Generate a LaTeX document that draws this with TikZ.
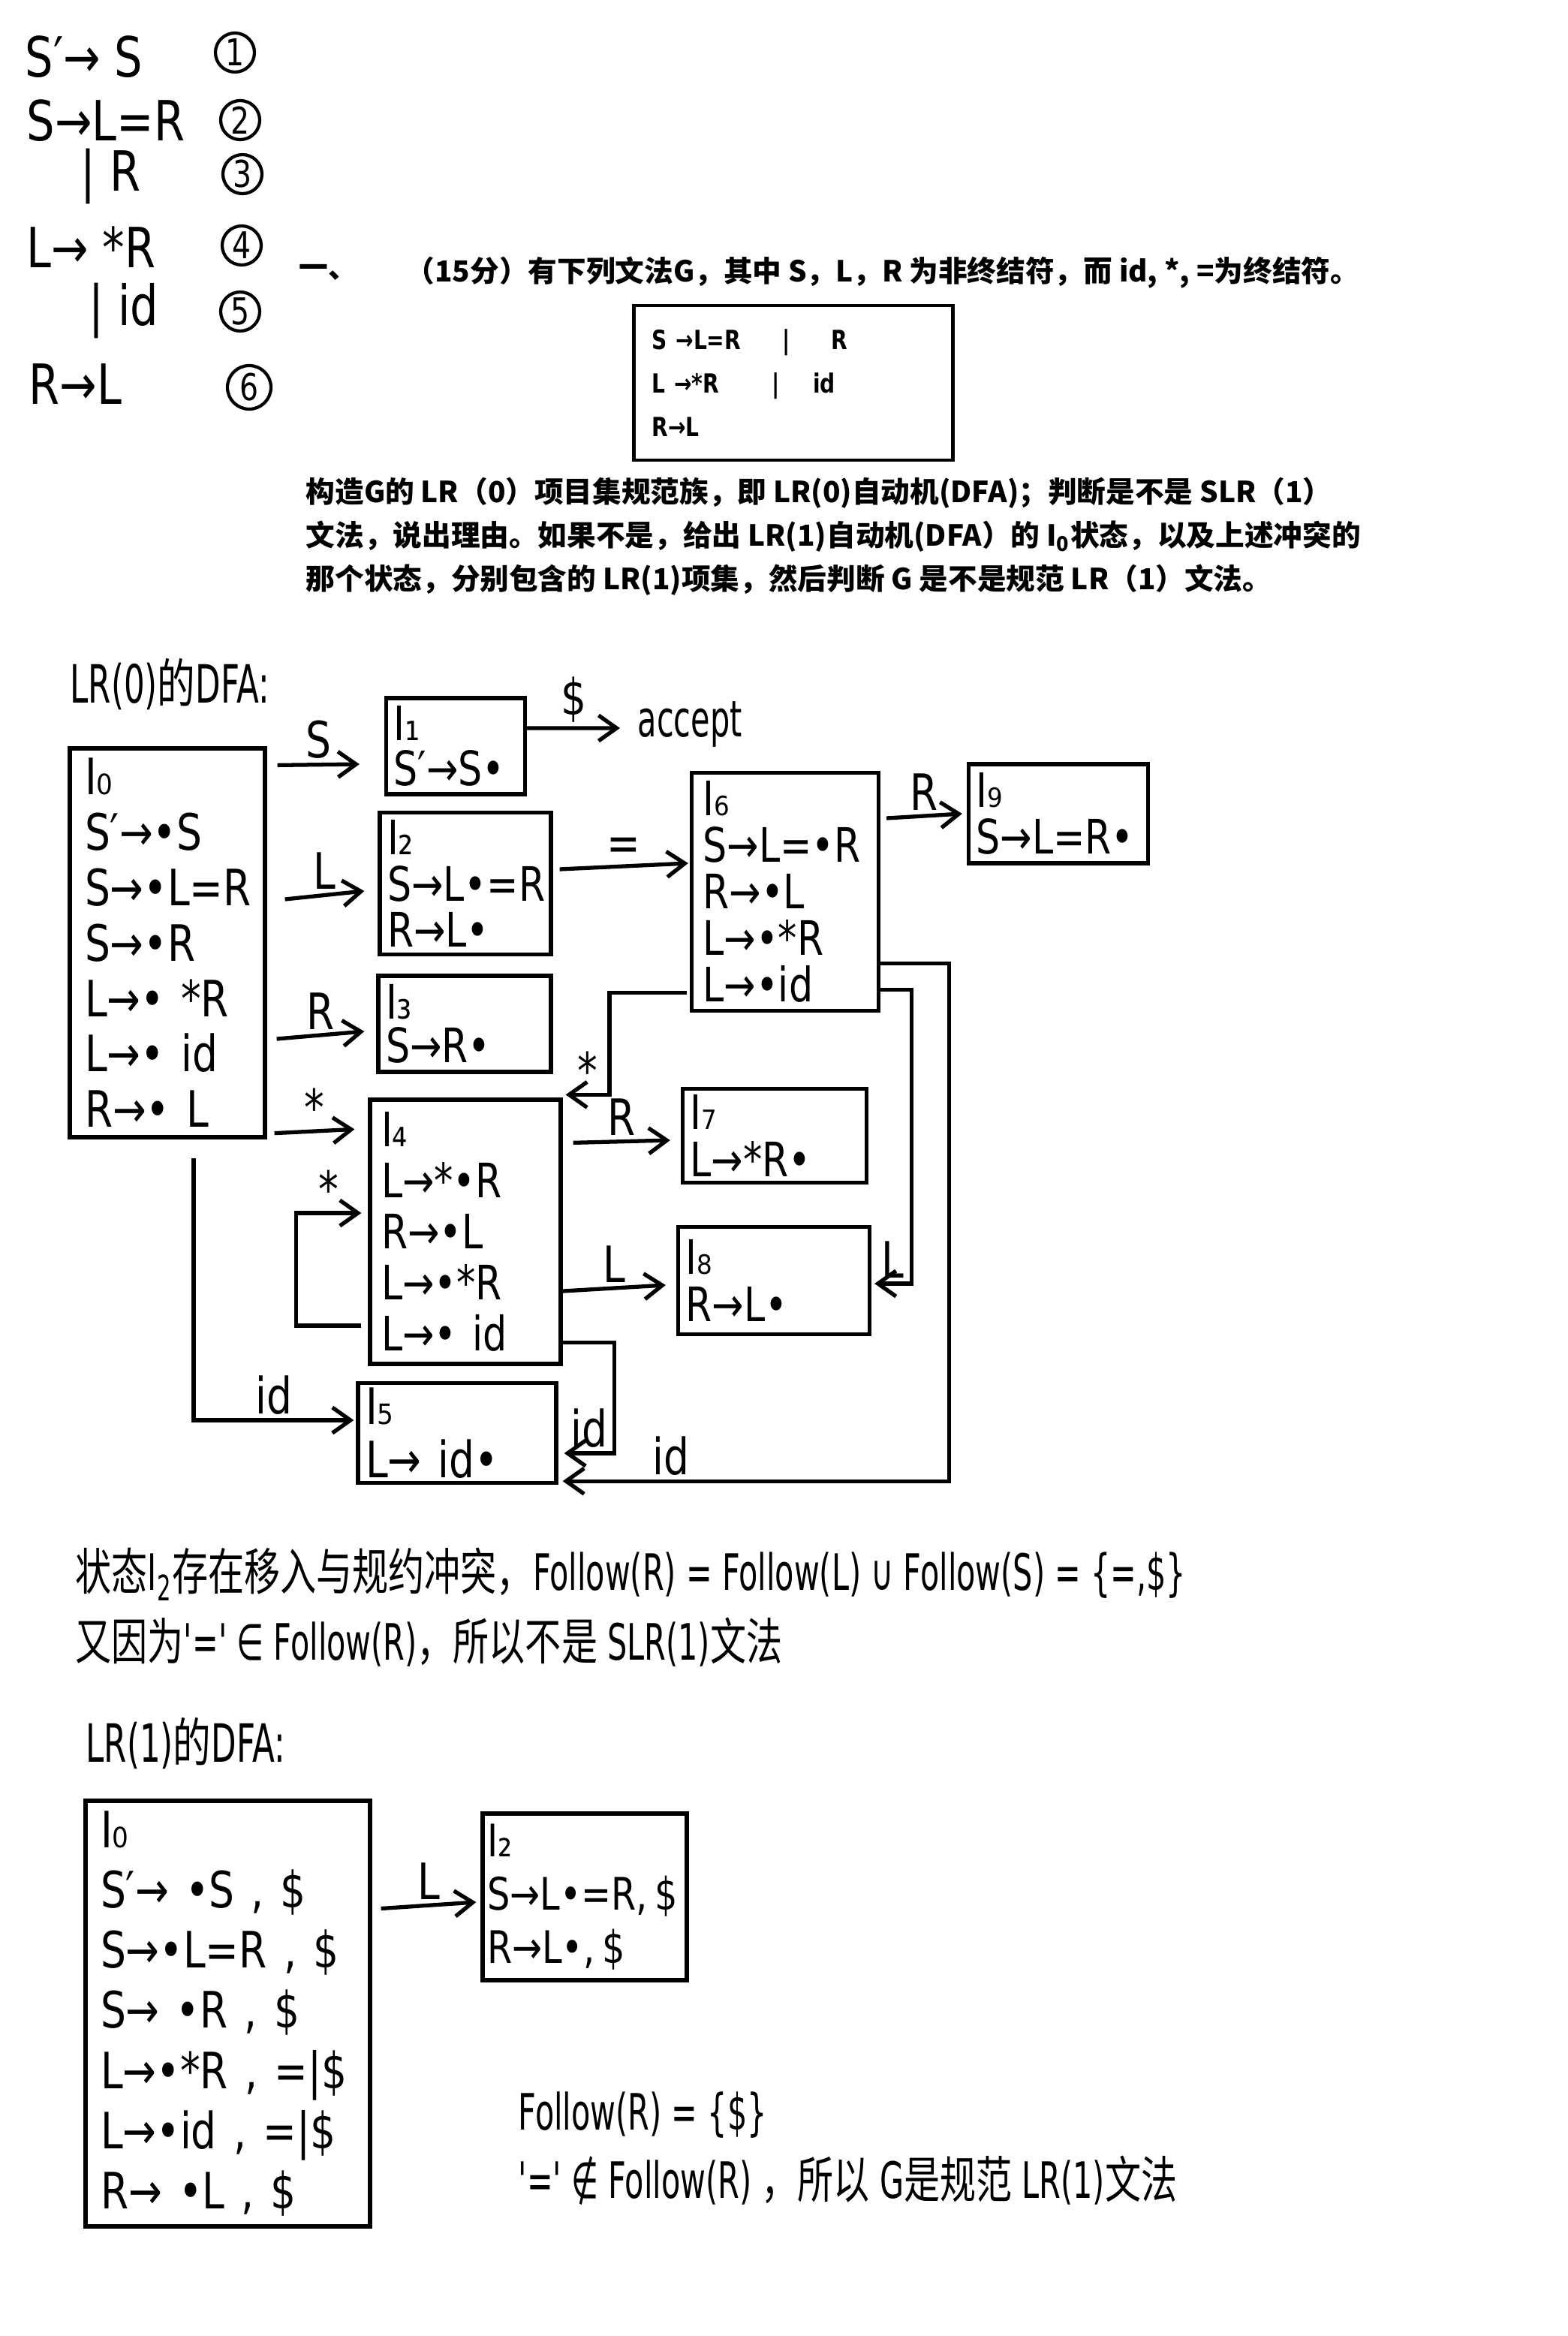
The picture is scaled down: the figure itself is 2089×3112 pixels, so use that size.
\documentclass[tikz,border=0pt]{standalone}
\usepackage{fontspec}
\setmainfont{DejaVu Sans}[FakeStretch=0.8]
\newfontfamily\hnarrow{DejaVu Sans}[FakeStretch=0.62]
\newfontfamily\cjk{Noto Sans CJK SC}[FakeStretch=0.72]
\newfontfamily\cjkp{Noto Sans CJK SC}
\usetikzlibrary{arrows.meta}

\begin{document}
\begin{tikzpicture}[x=0.1mm, y=-0.1mm,
    state/.style={rectangle, draw, line width=1.5pt, align=left, inner xsep=1mm, inner ysep=0pt},
    arr/.style={line width=1.5pt, -{Straight Barb[length=2.4mm, width=3.4mm]}},
    lbl/.style={inner sep=1.5pt, font=\fontsize{19}{19}\selectfont},
    num/.style={circle, draw, line width=1.2pt, minimum size=5.2mm, inner sep=0pt, font=\fontsize{14}{14}\selectfont},
    gram/.style={anchor=west, inner sep=0pt, font=\fontsize{21}{21}\selectfont},
    hand/.style={anchor=west, inner sep=0pt, font=\hnarrow\fontsize{19}{19}\selectfont},
    printed/.style={anchor=west, inner sep=0pt, font=\cjkp\bfseries\fontsize{11}{11}\selectfont}]
  \useasboundingbox (0,0) rectangle (2089,3112);

  % grammar with numbered rules
  \node[gram] (g1) at (33,76)  {S′→ S};
  \node[gram] (g2) at (35,161) {S→L=R};
  \node[gram] (g3) at (107,235) {| R};
  \node[gram] (g4) at (35,329) {L→ *R};
  \node[gram] (g5) at (118,414) {| id};
  \node[gram] (g6) at (38,512) {R→L};
  \node[num] (c1) at (313,70)  {1};
  \node[num] (c2) at (320,160) {2};
  \node[num] (c3) at (323,232) {3};
  \node[num] (c4) at (322,327) {4};
  \node[num] (c5) at (320,415) {5};
  \node[num, minimum size=5.8mm] (c6) at (332,516) {6};

  % printed question
  \node[printed] (q0) at (398,363) {一、};
  \node[printed] (q1) at (540,363) {（15分）有下列文法G，其中 S，L，R 为非终结符，而 id, *, =为终结符。};
  \node[draw, line width=1.3pt, align=left, text width=37.7mm, minimum height=20.6mm,
        inner xsep=2.4mm, inner ysep=0pt, font=\bfseries\fontsize{10}{16.5}\selectfont] (gbox) at (1057,510)
        {S →L=R\hspace*{5.5mm}|\hspace*{5.5mm}R\\L →*R\hspace*{7mm}|\hspace*{4.5mm}id\\R→L};
  \node[printed] (p1) at (407,657) {构造G的 LR（0）项目集规范族，即 LR(0)自动机(DFA)；判断是不是 SLR（1）};
  \node[printed] (p2) at (407,715) {文法，说出理由。如果不是，给出 LR(1)自动机(DFA）的 I\textsubscript{0}状态，以及上述冲突的};
  \node[printed] (p3) at (407,773) {那个状态，分别包含的 LR(1)项集，然后判断 G 是不是规范 LR（1）文法。};

  % LR(0) automaton
  \node[hand, font=\hnarrow\fontsize{20}{20}\selectfont] (t0) at (93,911) {LR(0){\cjk 的}DFA:};
  \node[state, inner xsep=2mm, text width=22mm, minimum height=51.8mm, font=\fontsize{19}{21}\selectfont] (I0) at (223,1256)
    {I₀\\S′→•S\\S→•L=R\\S→•R\\L→• *R\\L→• id\\R→• L};
  \node[state, text width=16.5mm, minimum height=12.8mm, font=\fontsize{18}{17}\selectfont] (I1) at (607,994)
    {I₁\\S′→S•};
  \node[state, text width=20.8mm, minimum height=18.9mm, font=\fontsize{18}{17.6}\selectfont] (I2) at (620,1177)
    {I₂\\S→L•=R\\R→L•};
  \node[state, text width=21mm, minimum height=12.8mm, font=\fontsize{18}{16.5}\selectfont] (I3) at (619,1364)
    {I₃\\S→R•};
  \node[state, inner xsep=1.5mm, text width=22.4mm, minimum height=35.2mm, font=\fontsize{18}{19.3}\selectfont] (I4) at (620,1641)
    {I₄\\L→*•R\\R→•L\\L→•*R\\L→• id};
  \node[state, text width=24.4mm, minimum height=13.3mm, font=\fontsize{19}{20}\selectfont] (I5) at (609,1909)
    {I₅\\L→ id•};
  \node[state, inner xsep=1.5mm, text width=21.9mm, minimum height=31.7mm, font=\fontsize{18}{17.6}\selectfont] (I6) at (1046,1188)
    {I₆\\S→L=•R\\R→•L\\L→•*R\\L→•id};
  \node[state, text width=22.5mm, minimum height=12.5mm, font=\fontsize{18}{18}\selectfont] (I7) at (1032,1513)
    {I₇\\L→*R•};
  \node[state, text width=23.5mm, minimum height=14.3mm, font=\fontsize{18}{18}\selectfont] (I8) at (1031,1706)
    {I₈\\R→L•};
  \node[state, text width=21.9mm, minimum height=13.2mm, font=\fontsize{18}{17.6}\selectfont] (I9) at (1410,1084)
    {I₉\\S→L=R•};
  \node[hand] (acc) at (849,965) {accept};

  \draw[arr] ([xshift=1.4mm,yshift=-2.5mm]I0.north east) -- node[lbl, above]{S} ([xshift=-3.3mm,yshift=-2.4mm]I1.west);
  \draw[arr] ([yshift=2.4mm]I1.east) -- node[lbl, above]{\$} ([xshift=-2.3mm,yshift=-0.5mm]acc.west);
  \draw[arr] ([xshift=2.4mm,yshift=5.8mm]I0.east) -- node[lbl, above]{L} ([xshift=-1.8mm,yshift=-1mm]I2.west);
  \draw[arr] ([xshift=1.3mm,yshift=-12.8mm]I0.east) -- node[lbl, above]{R} ([xshift=-1.6mm,yshift=-1mm]I3.west);
  \draw[arr] ([xshift=1mm,yshift=0.8mm]I0.south east) -- node[lbl, above]{*} ([xshift=-1.8mm,yshift=-4.2mm]I4.north west);
  \draw[arr] ([xshift=-0.9mm,yshift=-12.5mm]I4.west) -- ++(-87,0) |- node[lbl, above, pos=0.75]{*} ([xshift=-0.9mm,yshift=2.5mm]I4.west);
  \draw[arr] ([xshift=3.5mm,yshift=-2.5mm]I0.south) |- node[lbl, above, pos=0.75]{id} ([xshift=-0.3mm,yshift=1.7mm]I5.west);
  \draw[arr] ([xshift=0.9mm,yshift=1.9mm]I2.east) -- node[lbl, above]{=} ([xshift=-0.2mm,yshift=3.8mm]I6.west);
  \draw[arr] ([xshift=0.8mm,yshift=9.8mm]I6.east) -- node[lbl, above]{R} ([xshift=-0.6mm]I9.west);
  \draw[arr] ([xshift=-0.4mm,yshift=2.7mm]I6.south west) -- ++(-103,0) |- node[lbl, above, pos=0.75]{*} ([xshift=0.4mm,yshift=0.4mm]I4.north east);
  \draw[arr] ([xshift=1.4mm,yshift=-6mm]I4.north east) -- node[lbl, above]{R} ([xshift=-1.4mm,yshift=-0.6mm]I7.west);
  \draw[arr] ([yshift=-7.9mm]I4.east) -- node[lbl, above]{L} ([xshift=-1.4mm,yshift=-0.6mm]I8.west);
  \draw[arr] ([yshift=3.1mm]I6.south east) -- ++(41,0) |- node[lbl, above, pos=0.75]{L} ([xshift=0.4mm,yshift=-0.4mm]I8.east);
  \draw[arr] ([yshift=6.6mm]I6.south east) -- ++(91,0) |- node[lbl, above, pos=0.86]{id} ([xshift=0.6mm,yshift=0.5mm]I5.south east);
  \draw[arr] ([yshift=3.1mm]I4.south east) -- ++(69,0) |- node[lbl, above, pos=0.75]{id} ([xshift=0.8mm,yshift=-2.7mm]I5.east);

  % why not SLR(1)
  \node[hand] (e1) at (100,2097) {{\cjk 状态}I\textsubscript{2}{\cjk 存在移入与规约冲突，}Follow(R) = Follow(L) ∪ Follow(S) = \{=,\$\}};
  \node[hand] (e2) at (100,2188) {{\cjk 又因为}'=' ∈ Follow(R){\cjk ，所以不是} SLR(1){\cjk 文法}};

  % LR(1) automaton
  \node[hand, font=\hnarrow\fontsize{20}{20}\selectfont] (t1) at (114,2322) {LR(1){\cjk 的}DFA:};
  \node[state, inner xsep=2mm, text width=33.9mm, minimum height=56.7mm, font=\fontsize{19}{22.8}\selectfont] (L1I0) at (303.5,2682.5)
    {I₀\\S′→ •S , \$\\S→•L=R , \$\\S→ •R , \$\\L→•*R , =|\$\\L→•id , =|\$\\R→ •L , \$};
  \node[state, inner xsep=0.6mm, text width=26mm, minimum height=22.2mm, font=\fontsize{17}{20.2}\selectfont] (L1I2) at (779,2527)
    {I₂\\S→L•=R,\,\$\\R→L•,\,\$};
  \draw[arr] ([xshift=1.2mm,yshift=14mm]L1I0.east) -- node[lbl, above]{L} ([xshift=-0.6mm,yshift=-0.7mm]L1I2.west);

  \node[hand] (f1) at (690,2818) {Follow(R) = \{\$\}};
  \node[hand] (f2) at (690,2905) {'=' ∉ Follow(R) {\cjk ，所以} G{\cjk 是规范} LR(1){\cjk 文法}};
\end{tikzpicture}
\end{document}
